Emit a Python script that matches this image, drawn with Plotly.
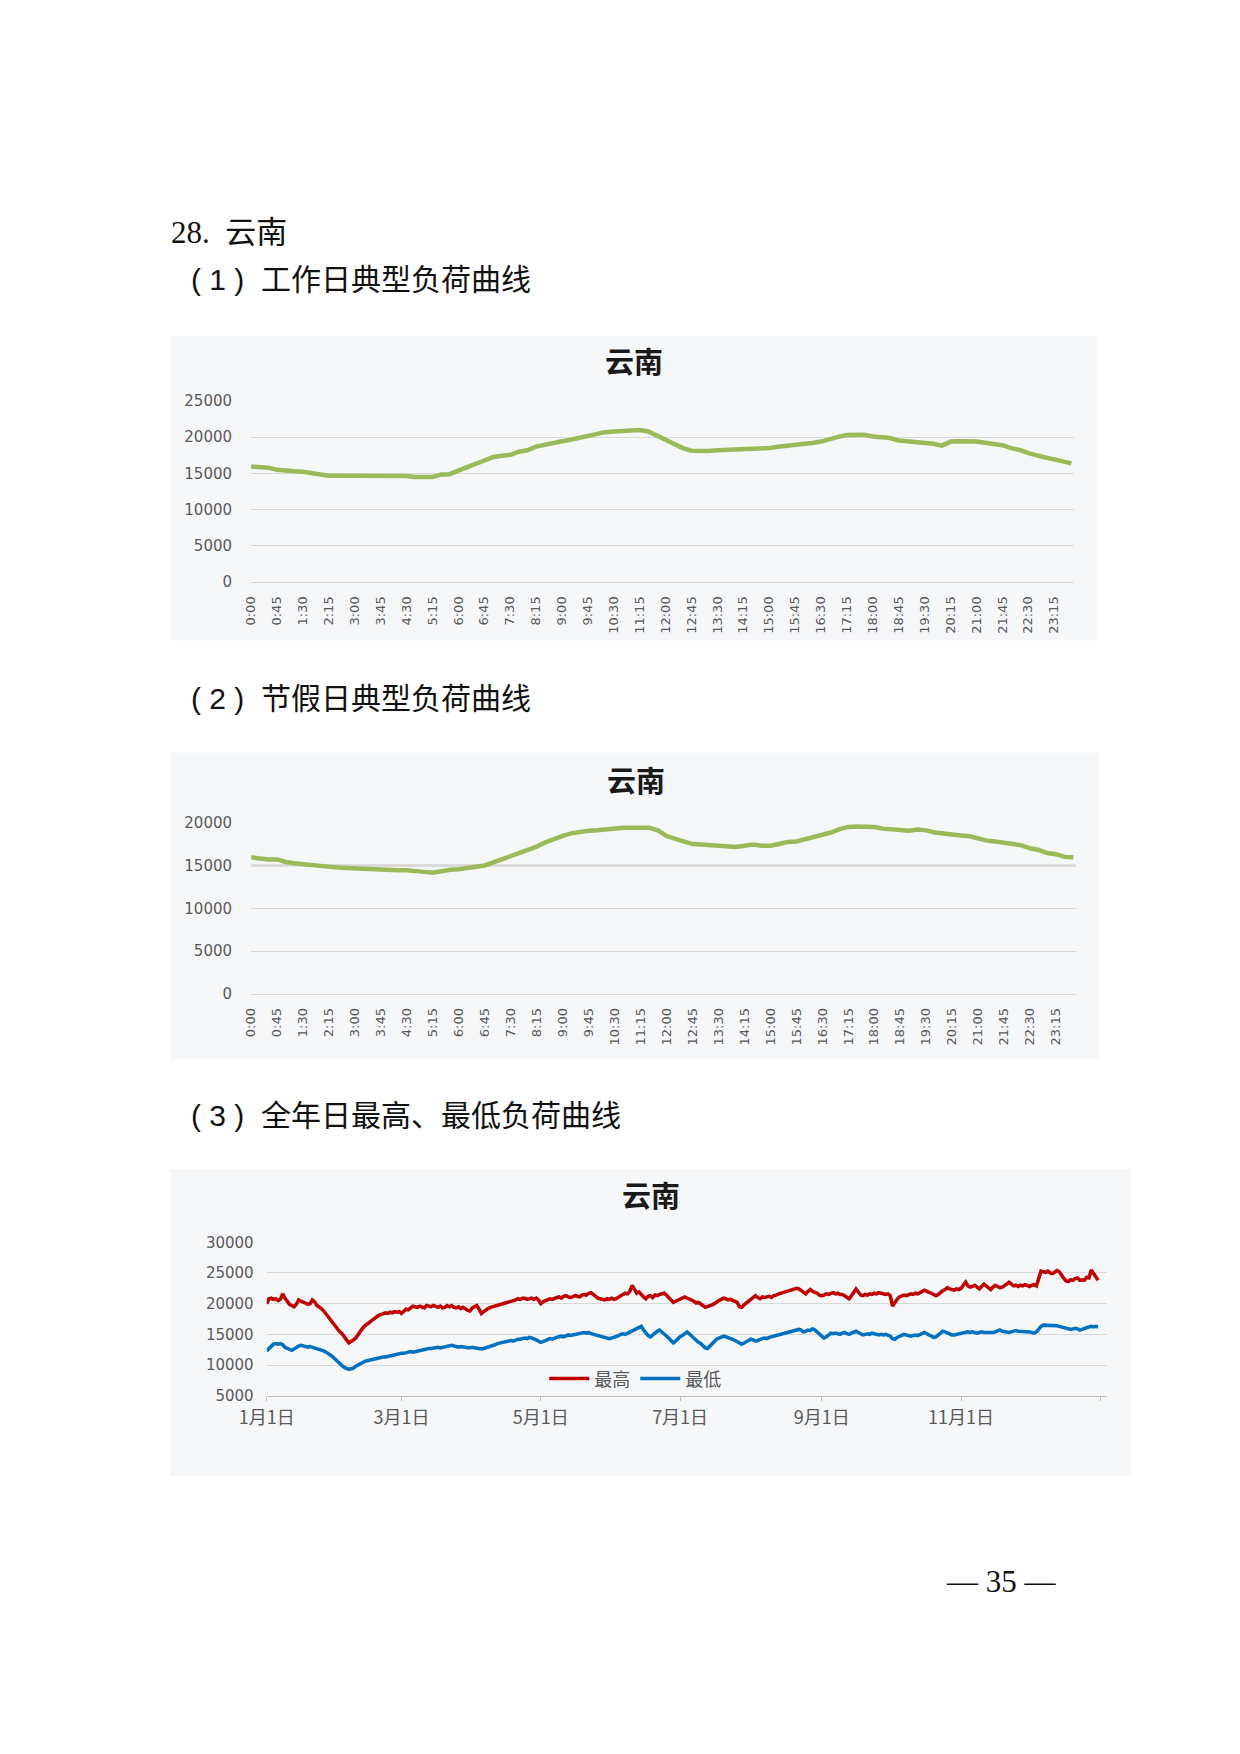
import plotly.graph_objects as go
import pandas as pd

W, H = 1240, 1754
OFF = 8  # default body margin of the written page

# 96 quarter-hour slots
times = [f"{m // 60}:{m % 60:02d}" for m in range(0, 1440, 15)]
time_ticks = times[::3]

workday_load = [
    15950, 15900, 15800, 15500, 15350, 15300, 15250, 15050, 14750, 14700, 14700, 14700,
    14650, 14550, 14550, 14550, 14600, 14650, 14650, 14500, 14500, 14500, 14850, 14900,
    15400, 15850, 16400, 16900, 17250, 17450, 17550, 18000, 18200, 18700, 19000, 19300,
    19450, 19650, 19950, 20200, 20450, 20700, 20800, 20900, 20950, 21000, 20800, 20200,
    19600, 19000, 18500, 18150, 18100, 18100, 18200, 18250, 18250, 18350, 18400, 18400,
    18500, 18700, 18800, 18900, 19000, 19200, 19400, 19800, 20050, 20300, 20350, 20350,
    20100, 19950, 19900, 19550, 19450, 19200, 19150, 19100, 18850, 19400, 19450, 19450,
    19400, 19250, 19150, 18900, 18500, 18250, 17800, 17450, 17200, 16950, 16700, 16400,
]

holiday_load = [
    15950, 15800, 15700, 15700, 15400, 15250, 15200, 15050, 14950, 14800, 14750, 14700,
    14650, 14600, 14500, 14450, 14450, 14450, 14450, 14400, 14250, 14150, 14350, 14500,
    14550, 14650, 14850, 15000, 15350, 15800, 16150, 16450, 16850, 17200, 17700, 18100,
    18450, 18750, 18950, 19050, 19100, 19200, 19350, 19400, 19400, 19400, 19400, 19100,
    18450, 18100, 17800, 17500, 17450, 17400, 17300, 17250, 17150, 17300, 17450, 17300,
    17300, 17500, 17750, 17800, 18050, 18400, 18600, 18850, 19250, 19500, 19550, 19550,
    19500, 19300, 19200, 19100, 19050, 19200, 19100, 18850, 18700, 18600, 18500, 18400,
    18150, 17900, 17800, 17700, 17500, 17350, 17000, 16800, 16450, 16300, 16000, 15950,
]

# daily max / min for the year
days = pd.date_range("2019-01-01", periods=365, freq="D")
month_ticks = ["2019-01-01", "2019-03-01", "2019-05-01", "2019-07-01",
               "2019-09-01", "2019-11-01", "2020-01-01"]
month_labels = ["1月1日", "3月1日", "5月1日", "7月1日", "9月1日", "11月1日", ""]

daily_max = [
    20000, 20800, 20900, 20700, 20800, 20500, 20700, 21600, 20900, 20300, 19900, 19700, 19500, 19900, 20600,
    20400, 20300, 20100, 19900, 20000, 20600, 20300, 19700, 19500, 19200, 18800, 18300, 17800, 17300, 16900,
    16400, 16000, 15400, 15100, 14500, 14100, 13600, 13800, 14100, 14400, 15000, 15500, 16000, 16400, 16700,
    17000, 17300, 17600, 17800, 18100, 18200, 18400, 18500, 18400, 18600, 18500, 18700, 18600, 18700, 18400,
    18800, 19100, 19000, 19300, 19600, 19500, 19400, 19600, 19500, 19300, 19700, 19600, 19500, 19700, 19500,
    19400, 19600, 19300, 19400, 19700, 19500, 19700, 19400, 19300, 19500, 19200, 19400, 19100, 18900, 18800,
    19300, 19500, 19700, 19100, 18400, 18700, 19000, 19200, 19400, 19500, 19600, 19700, 19800, 20000, 20100,
    20200, 20300, 20400, 20500, 20600, 20800, 20700, 20900, 20900, 20700, 20800, 20900, 20700, 20900, 20600,
    20000, 20300, 20500, 20600, 20800, 20700, 20900, 21000, 21100, 20900, 21200, 21300, 21100, 21000, 21100,
    21300, 21200, 21100, 21400, 21500, 21400, 21700, 21800, 21500, 21200, 20900, 20800, 20700, 20600, 20800,
    20700, 20900, 20700, 20800, 21100, 21300, 21500, 21700, 21600, 22000, 23000, 22200, 21700, 21900, 21400,
    21100, 20800, 21200, 21300, 21000, 21400, 21300, 21500, 21600, 21700, 21400, 21000, 20500, 20200, 20400,
    20600, 20800, 21000, 21100, 20900, 20800, 20600, 20400, 20100, 20200, 20000, 19700, 19400, 19500, 19700,
    19800, 20000, 20300, 20500, 20700, 20900, 20800, 20600, 20700, 20500, 20300, 20200, 19500, 19400, 19800,
    20100, 20400, 20800, 21000, 21300, 21000, 20800, 21100, 21000, 21100, 21200, 21000, 21300, 21400, 21600,
    21700, 21800, 21900, 22000, 22100, 22200, 22300, 22500, 22400, 22100, 21900, 21600, 22000, 22300, 22000,
    21900, 21700, 21400, 21300, 21400, 21600, 21500, 21700, 21800, 21600, 21700, 21500, 21500, 21300, 21000,
    20800, 21300, 21800, 22400, 21900, 21400, 21300, 21500, 21400, 21600, 21500, 21700, 21600, 21800, 21700,
    21600, 21500, 21600, 21300, 19600, 20200, 20700, 21100, 21200, 21400, 21300, 21500, 21600, 21500, 21700,
    21600, 21800, 22000, 22200, 22000, 21900, 21700, 21500, 21300, 21500, 21900, 22100, 22300, 22600, 22400,
    22300, 22200, 22400, 22300, 22500, 23000, 23500, 22900, 22700, 22800, 23000, 22700, 22400, 22800, 23200,
    22900, 22600, 22300, 22700, 23000, 22800, 22600, 22700, 22900, 23200, 23500, 23100, 22900, 23000, 22800,
    23000, 22900, 23100, 23000, 22800, 23000, 23100, 22900, 24000, 25300, 25200, 25100, 25300, 25000, 24900,
    25100, 25400, 25200, 24600, 24100, 23700, 23600, 23900, 23800, 24100, 24200, 23800, 23900, 23800, 24300,
    24200, 25500, 24900, 24300, 23800,
]

daily_min = [
    12300, 12700, 13200, 13400, 13500, 13400, 13500, 13300, 12900, 12700, 12500, 12400, 12600, 12900, 13100,
    13200, 13100, 13000, 12900, 13000, 12900, 12800, 12700, 12600, 12500, 12300, 12100, 11900, 11600, 11300,
    10900, 10600, 10200, 9900, 9600, 9400, 9300, 9400, 9500, 9800, 10000, 10300, 10500, 10600, 10700,
    10800, 10900, 11000, 11100, 11200, 11200, 11300, 11300, 11400, 11500, 11600, 11600, 11700, 11800, 11900,
    11900, 12000, 12100, 12200, 12100, 12200, 12300, 12300, 12400, 12500, 12600, 12700, 12700, 12800, 12800,
    12900, 12800, 12900, 13000, 13100, 13100, 13200, 13100, 13000, 12900, 13000, 12900, 12900, 12800, 12800,
    12900, 12800, 12700, 12700, 12600, 12700, 12800, 12900, 13000, 13200, 13300, 13500, 13600, 13700, 13800,
    13800, 13900, 14000, 13900, 14100, 14200, 14200, 14300, 14400, 14300, 14500, 14400, 14300, 14100, 13900,
    13700, 13800, 14000, 14100, 14300, 14200, 14400, 14500, 14600, 14700, 14600, 14800, 14900, 14800, 14900,
    15000, 15100, 15200, 15200, 15300, 15200, 15300, 15100, 15000, 14900, 14800, 14700, 14600, 14500, 14400,
    14300, 14400, 14500, 14700, 14800, 15000, 15100, 15000, 15200, 15300, 15500, 15700, 15900, 16100, 16300,
    15700, 15200, 14800, 14600, 14900, 15300, 15500, 15700, 15400, 15000, 14800, 14400, 14000, 13600, 13900,
    14300, 14600, 14800, 15200, 15400, 15100, 14700, 14300, 14000, 13700, 13500, 13200, 12800, 12700, 13100,
    13500, 13900, 14200, 14400, 14600, 14700, 14600, 14500, 14400, 14200, 14000, 13800, 13500, 13400, 13600,
    13800, 14000, 14200, 14100, 13900, 14000, 14200, 14300, 14400, 14300, 14500, 14600, 14700, 14800, 14900,
    14900, 15000, 15100, 15200, 15300, 15400, 15500, 15600, 15800, 15700, 15400, 15500, 15700, 15600, 15900,
    15700, 15400, 15000, 14700, 14400, 14600, 14900, 15200, 15100, 15200, 15100, 15000, 15200, 15300, 15100,
    15000, 15200, 15400, 15500, 15300, 15100, 14900, 15000, 15100, 15000, 15200, 15100, 15000, 14900, 15000,
    14900, 15000, 14800, 14700, 14300, 14200, 14500, 14700, 14800, 15000, 14900, 14800, 14700, 14800, 14900,
    14800, 15000, 15200, 15300, 15100, 14900, 14700, 14500, 14600, 14900, 15200, 15500, 15400, 15200, 15000,
    14900, 14900, 15000, 15100, 15100, 15200, 15300, 15400, 15300, 15400, 15300, 15200, 15300, 15400, 15300,
    15300, 15200, 15200, 15300, 15400, 15600, 15700, 15500, 15400, 15300, 15300, 15400, 15500, 15600, 15500,
    15500, 15400, 15400, 15500, 15400, 15300, 15200, 15400, 15900, 16300, 16500, 16500, 16500, 16400, 16500,
    16400, 16400, 16300, 16200, 16100, 16000, 15900, 15800, 15900, 16000, 15900, 15700, 15800, 16000, 16100,
    16200, 16300, 16200, 16300, 16200,
]

assert len(daily_max) == 365 and len(daily_min) == 365
assert len(workday_load) == 96 and len(holiday_load) == 96


def px_x(v):
    return (v - OFF) / W


def px_y(v):
    return 1 - (v - OFF) / H


CJK = "Noto Sans CJK SC"
NUM = "DejaVu Sans"
SANS = "Liberation Sans, Noto Sans CJK SC"
SERIF = "Liberation Serif, Noto Sans CJK SC"
GREEN = "#9BBB59"
GRID = "#D9D9D9"
TICK = "#595959"
NB = "\u00a0"

fig = go.Figure()

fig.add_trace(go.Scatter(x=times, y=workday_load, mode="lines", xaxis="x", yaxis="y",
                         line=dict(color=GREEN, width=4.5), showlegend=False))
fig.add_trace(go.Scatter(x=times, y=holiday_load, mode="lines", xaxis="x2", yaxis="y2",
                         line=dict(color=GREEN, width=4.5), showlegend=False))
fig.add_trace(go.Scatter(x=days, y=daily_max, mode="lines", xaxis="x3", yaxis="y3",
                         name="最高", line=dict(color="#C00000", width=3.5)))
fig.add_trace(go.Scatter(x=days, y=daily_min, mode="lines", xaxis="x3", yaxis="y3",
                         name="最低", line=dict(color="#0070C0", width=3.5)))

time_axis = dict(type="category", range=[0, 95.3], tickmode="array", tickvals=time_ticks,
                 tickangle=-90, tickfont=dict(family=NUM, size=13, color=TICK),
                 showgrid=False, showline=True, linecolor=GRID, ticks="",
                 ticklabelstandoff=8)
load_axis = dict(dtick=5000, tickformat="d", showgrid=True, gridcolor=GRID, gridwidth=1,
                 zeroline=False, showline=False, ticks="",
                 tickfont=dict(family=NUM, size=15, color=TICK), ticklabelstandoff=12)

fig.update_layout(
    width=W, height=H,
    margin=dict(l=0, r=0, t=0, b=0),
    paper_bgcolor="white", plot_bgcolor="rgba(0,0,0,0)",
    xaxis=dict(time_axis, domain=[px_x(228), px_x(1070)], anchor="y"),
    yaxis=dict(load_axis, domain=[px_y(579), px_y(396)], range=[0, 25000], anchor="x",
               ticklabelstandoff=18),
    xaxis2=dict(time_axis, domain=[px_x(228), px_x(1072)], anchor="y2"),
    yaxis2=dict(load_axis, domain=[px_y(995), px_y(822)], range=[0, 20000], anchor="x2",
                ticklabelstandoff=18),
    xaxis3=dict(type="date", range=["2019-01-01", "2020-01-04"], domain=[px_x(244), px_x(1104)],
                anchor="y3", tickmode="array", tickvals=month_ticks, ticktext=month_labels,
                tickfont=dict(family=CJK, size=18, color=TICK), showgrid=False,
                showline=True, linecolor="#BFBFBF", ticks="outside", ticklen=4,
                tickcolor="#BFBFBF", ticklabelstandoff=2),
    yaxis3=dict(load_axis, domain=[px_y(1401), px_y(1246)], range=[5000, 30000], anchor="x3"),
    legend=dict(orientation="h", x=px_x(528), y=px_y(1384), xanchor="left", yanchor="middle",
                bgcolor="rgba(0,0,0,0)", font=dict(family=CJK, size=18, color=TICK),
                itemwidth=40, tracegroupgap=0),
)

# chart panels
for x0, y0, x1, y1 in [(145, 330, 1094, 638), (145, 751, 1096, 1061), (145, 1172, 1128, 1482)]:
    fig.add_shape(type="rect", xref="paper", yref="paper", layer="below",
                  x0=px_x(x0), x1=px_x(x1), y0=px_y(y0), y1=px_y(y1),
                  fillcolor="#F6F7F9", line=dict(width=0))

# the 15000 gridline of the holiday chart prints darker in the source
fig.add_shape(type="line", xref="x2 domain", yref="y2", x0=0, x1=1, y0=15000, y1=15000,
              layer="below", line=dict(color="#C4C4C4", width=2))

# chart titles
for cx, cy in [(620, 355), (622, 778), (637, 1197)]:
    fig.add_annotation(x=px_x(cx), y=px_y(cy), xref="paper", yref="paper", showarrow=False,
                       xanchor="center", yanchor="middle",
                       text="<b>云南</b>", font=dict(family=CJK, size=29, color="#1a1a1a"))

# page headings
headings = [
    (144, 226, "28." + NB + NB + "云南", 31, SERIF),
    (165, 273, "(" + NB + "1" + NB + ")" + NB + NB + "工作日典型负荷曲线", 30, SANS),
    (165, 697, "(" + NB + "2" + NB + ")" + NB + NB + "节假日典型负荷曲线", 30, SANS),
    (165, 1118, "(" + NB + "3" + NB + ")" + NB + NB + "全年日最高、最低负荷曲线", 30, SANS),
]
for hx, hy, txt, sz, fam in headings:
    fig.add_annotation(x=px_x(hx), y=px_y(hy), xref="paper", yref="paper", showarrow=False,
                       xanchor="left", yanchor="middle", text=txt,
                       font=dict(family=fam, size=sz, color="#111"))

fig.add_annotation(x=px_x(996), y=px_y(1589), xref="paper", yref="paper", showarrow=False,
                   xanchor="center", yanchor="middle",
                   text="—" + NB + "35" + NB + "—", font=dict(family=SERIF, size=31, color="#111"))

fig.write_html("out.html")
